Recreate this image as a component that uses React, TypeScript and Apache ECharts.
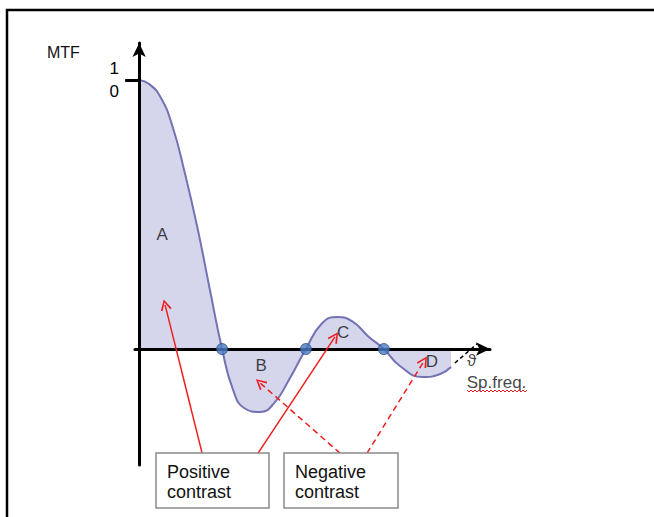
import React, { useEffect, useRef } from "react";
import * as echarts from "echarts";

// MTF curve samples [spatial frequency, MTF]
const curveX = [0, 0.12, 0.26, 0.4, 0.55, 0.7, 0.85, 1.0, 1.13, 1.27, 1.46, 1.63, 1.8, 2.01, 2.2, 2.39, 2.57, 2.76, 2.95, 3.14, 3.42, 3.63, 3.76];
const curveY = [1.0, 0.985, 0.935, 0.83, 0.655, 0.455, 0.225, 0, -0.15, -0.22, -0.234, -0.2, -0.118, 0, 0.094, 0.119, 0.103, 0.048, 0, -0.062, -0.104, -0.093, -0.067];

// zero crossings (blue dots)
const zeroX = [1.0, 2.01, 2.95];

// region labels
const regionNames = ["A", "B", "C", "D"];
const regionX = [0.277, 1.47, 2.458, 3.53];
const regionY = [0.4275, -0.063, 0.063, -0.048];

// arrows: [fromX, fromY, toX, toY]
const positiveArrows = [
  [0.759, -0.387, 0.313, 0.164],
  [1.434, -0.387, 2.361, 0.045],
];
const negativeArrows = [
  [2.422, -0.387, 1.458, -0.126],
  [2.747, -0.387, 3.434, -0.045],
];

const FONT = "'Liberation Sans', Arial, sans-serif";
const chevron = "path://M5,0 L10,10 L8.6,10.9 L5,3 L1.4,10.9 L0,10 Z";

export default function App() {
  const ref = useRef<HTMLDivElement>(null);
  useEffect(() => {
    if (!ref.current) return;
    const chart = echarts.init(ref.current, undefined, { renderer: "svg" });

    const wave: number[][] = [];
    for (let x = 467; x <= 527; x += 2) {
      wave.push([x, 391 + (((x - 467) / 2) % 2 === 0 ? -1 : 1)]);
    }

    const arrowLine = (arr: number[][], dashed: boolean) => ({
      type: "lines",
      coordinateSystem: "cartesian2d",
      z: 6,
      silent: true,
      symbol: ["none", chevron],
      symbolSize: [11, 11],
      lineStyle: { color: "#ee1c1c", width: 1.5, type: dashed ? [6, 4] : "solid", opacity: 1 },
      data: arr.map((a) => ({ coords: [[a[0], a[1]], [a[2], a[3]]] })),
    });

    chart.setOption({
      animation: false,
      grid: { left: 135, top: 43, width: 355, height: 422, containLabel: false },
      xAxis: {
        type: "value",
        min: -0.05,
        max: 4.23,
        z: 3,
        axisLine: {
          show: true,
          onZero: true,
          symbol: ["none", "arrow"],
          symbolSize: [10, 14],
          lineStyle: { color: "#000", width: 3 },
        },
        axisTick: { show: false },
        axisLabel: { show: false },
        splitLine: { show: false },
      },
      yAxis: {
        type: "value",
        min: -0.431,
        max: 1.1375,
        z: 3,
        axisLine: {
          show: true,
          onZero: true,
          symbol: ["none", "arrow"],
          symbolSize: [10, 14],
          lineStyle: { color: "#000", width: 3 },
        },
        axisTick: {
          show: true,
          customValues: [1],
          length: 14,
          lineStyle: { color: "#000", width: 3 },
        },
        axisLabel: {
          show: true,
          customValues: [1],
          formatter: () => "1\n0",
          color: "#000",
          fontSize: 17,
          fontFamily: FONT,
          lineHeight: 23,
          margin: 16,
          padding: [5, 0, 0, 0],
        },
        splitLine: { show: false },
      },
      series: [
        {
          type: "line",
          data: curveX.map((x, i) => [x, curveY[i]]),
          smooth: 0.5,
          symbol: "none",
          z: 2,
          lineStyle: { color: "#7272b4", width: 2 },
          areaStyle: { color: "#d5d5eb", opacity: 1 },
        },
        {
          type: "scatter",
          data: zeroX.map((x) => [x, 0]),
          symbolSize: 11,
          z: 5,
          itemStyle: { color: "#4a7cc6", borderColor: "#2a4878", borderWidth: 1 },
        },
        {
          type: "scatter",
          data: regionNames.map((n, i) => ({ name: n, value: [regionX[i], regionY[i]] })),
          symbolSize: 0,
          z: 7,
          label: {
            show: true,
            position: "inside",
            formatter: (p: any) => p.name,
            color: "#111",
            fontSize: 17,
            fontFamily: FONT,
          },
        },
        {
          type: "scatter",
          data: [
            { name: "ϑ", value: [4.01, -0.041], label: { align: "center" } },
            { name: "Sp.freq.", value: [3.95, -0.123], label: { align: "left" } },
          ],
          symbolSize: 0,
          z: 7,
          label: {
            show: true,
            position: "inside",
            formatter: (p: any) => p.name,
            color: "#111",
            fontSize: 17,
            fontFamily: FONT,
          },
        },
        {
          type: "lines",
          coordinateSystem: "cartesian2d",
          z: 6,
          silent: true,
          lineStyle: { color: "#000", width: 1.5, type: [4, 3], opacity: 1 },
          data: [{ coords: [[3.807, -0.052], [4.072, 0.019]] }],
        },
        arrowLine(positiveArrows, false),
        arrowLine(negativeArrows, true),
      ],
      graphic: [
        {
          type: "rect",
          z: 100,
          shape: { x: 7, y: 10, width: 700, height: 600 },
          style: { fill: "none", stroke: "#000", lineWidth: 2.5 },
        },
        {
          type: "text",
          z: 100,
          x: 47,
          y: 52,
          style: { text: "MTF", font: `16px ${FONT}`, fill: "#111", verticalAlign: "middle" },
        },
        {
          type: "rect",
          z: 100,
          shape: { x: 156, y: 453, width: 113, height: 55 },
          style: { fill: "#fff", stroke: "#8a8a8a", lineWidth: 1.5 },
        },
        {
          type: "text",
          z: 101,
          x: 167,
          y: 472,
          style: { text: "Positive", font: `18px ${FONT}`, fill: "#111", verticalAlign: "middle" },
        },
        {
          type: "text",
          z: 101,
          x: 167,
          y: 492,
          style: { text: "contrast", font: `18px ${FONT}`, fill: "#111", verticalAlign: "middle" },
        },
        {
          type: "rect",
          z: 100,
          shape: { x: 284, y: 453, width: 114, height: 55 },
          style: { fill: "#fff", stroke: "#8a8a8a", lineWidth: 1.5 },
        },
        {
          type: "text",
          z: 101,
          x: 295,
          y: 472,
          style: { text: "Negative", font: `18px ${FONT}`, fill: "#111", verticalAlign: "middle" },
        },
        {
          type: "text",
          z: 101,
          x: 295,
          y: 492,
          style: { text: "contrast", font: `18px ${FONT}`, fill: "#111", verticalAlign: "middle" },
        },
        {
          type: "polyline",
          z: 101,
          shape: { points: wave },
          style: { stroke: "#e02020", lineWidth: 1, fill: "none" },
        },
      ],
    });
    return () => chart.dispose();
  }, []);
  return (
    <div
      ref={ref}
      style={{ position: "absolute", left: 0, top: 0, width: 654, height: 517, background: "#fff" }}
    />
  );
}
